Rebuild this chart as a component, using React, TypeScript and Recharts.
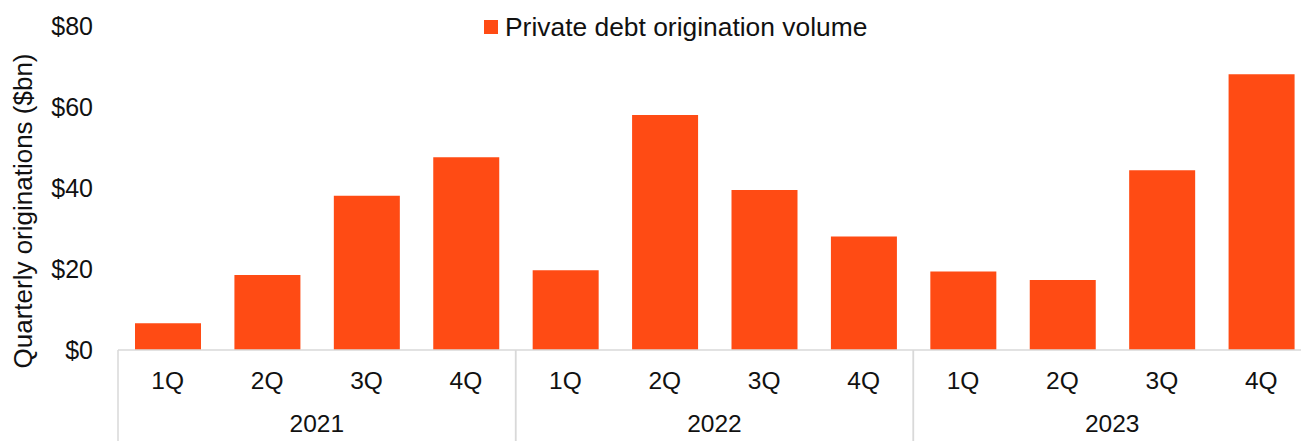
import React from 'react';
import { BarChart, Bar, XAxis, YAxis, Legend } from 'recharts';

const years = ['2021', '2022', '2023'];
const quarters = ['1Q', '2Q', '3Q', '4Q'];
const originations = [6.6, 18.5, 38.1, 47.6, 19.7, 58.0, 39.5, 28.0, 19.4, 17.3, 44.4, 68.1];
const yTicks = [0, 20, 40, 60, 80];

const SERIES_NAME = 'Private debt origination volume';
const BAR_COLOR = '#FF4B14';
const AXIS_COLOR = '#D9D9D9';
const TEXT_COLOR = '#111111';
const FONT = '"Liberation Sans", Arial, sans-serif';

const data = originations.map((v, i) => ({
  id: `${years[Math.floor(i / 4)]}-${quarters[i % 4]}`,
  quarter: quarters[i % 4],
  year: years[Math.floor(i / 4)],
  value: v,
}));

const CHART_W = 1320;
const CHART_H = 441;

const XTick = (props: any) => {
  const { x, y, payload } = props;
  const idx: number = payload.index;
  const half: number = payload.offset ?? 49.7;
  const d = data[idx];
  const els: React.ReactNode[] = [];
  els.push(
    <text key="q" x={x} y={y + 39} textAnchor="middle" fontSize={24.5} fill={TEXT_COLOR} fontFamily={FONT}>
      {d ? d.quarter : ''}
    </text>
  );
  if (idx % 4 === 0) {
    els.push(<line key="sepL" x1={x - half} x2={x - half} y1={y} y2={CHART_H} stroke={AXIS_COLOR} strokeWidth={1.5} />);
  }
  if (idx % 4 === 3) {
    els.push(<line key="sepR" x1={x + half} x2={x + half} y1={y} y2={CHART_H} stroke={AXIS_COLOR} strokeWidth={1.5} />);
  }
  if (idx % 4 === 1 && d) {
    els.push(
      <text key="y" x={x + half} y={y + 82} textAnchor="middle" fontSize={24.5} fill={TEXT_COLOR} fontFamily={FONT}>
        {d.year}
      </text>
    );
  }
  return <g>{els}</g>;
};

const YLabel = (props: any) => {
  const vb = props.viewBox || { x: 0, y: 26, width: 118, height: 324 };
  const cx = 32;
  const cy = vb.y + vb.height / 2 + 23;
  return (
    <text x={cx} y={cy} transform={`rotate(-90, ${cx}, ${cy})`} textAnchor="middle" fontSize={26} fill={TEXT_COLOR} fontFamily={FONT}>
      Quarterly originations ($bn)
    </text>
  );
};

const LegendContent = () => (
  <div style={{ display: 'flex', alignItems: 'center', height: 30, fontFamily: FONT, whiteSpace: 'nowrap' }}>
    <span style={{ display: 'inline-block', width: 14, height: 14, background: BAR_COLOR, marginRight: 7 }} />
    <span style={{ fontSize: 26.4, lineHeight: '30px', color: TEXT_COLOR }}>{SERIES_NAME}</span>
  </div>
);

export default function App() {
  return (
    <div style={{ position: 'fixed', left: 0, top: 0, width: 1301, height: 441, overflow: 'hidden', background: '#fff' }}>
      <BarChart width={CHART_W} height={CHART_H} data={data} margin={{ top: 26, right: 9, bottom: 0, left: 0 }}>
        <Legend
          verticalAlign="middle"
          align="center"
          content={<LegendContent />}
          wrapperStyle={{ top: 12, left: 484, width: 'auto' }}
        />
        <XAxis
          dataKey="id"
          height={91}
          axisLine={{ stroke: AXIS_COLOR, strokeWidth: 1.5 }}
          tickLine={false}
          tickSize={0}
          tickMargin={0}
          interval={0}
          tick={<XTick />}
        />
        <YAxis
          width={118}
          domain={[0, 80]}
          ticks={yTicks}
          axisLine={false}
          tickLine={false}
          tickSize={0}
          tickMargin={25}
          tickFormatter={(v: number) => `$${v}`}
          tick={{ fontSize: 25, fill: TEXT_COLOR, fontFamily: FONT }}
          label={<YLabel />}
        />
        <Bar dataKey="value" name={SERIES_NAME} fill={BAR_COLOR} barSize={66} isAnimationActive={false} />
      </BarChart>
    </div>
  );
}
